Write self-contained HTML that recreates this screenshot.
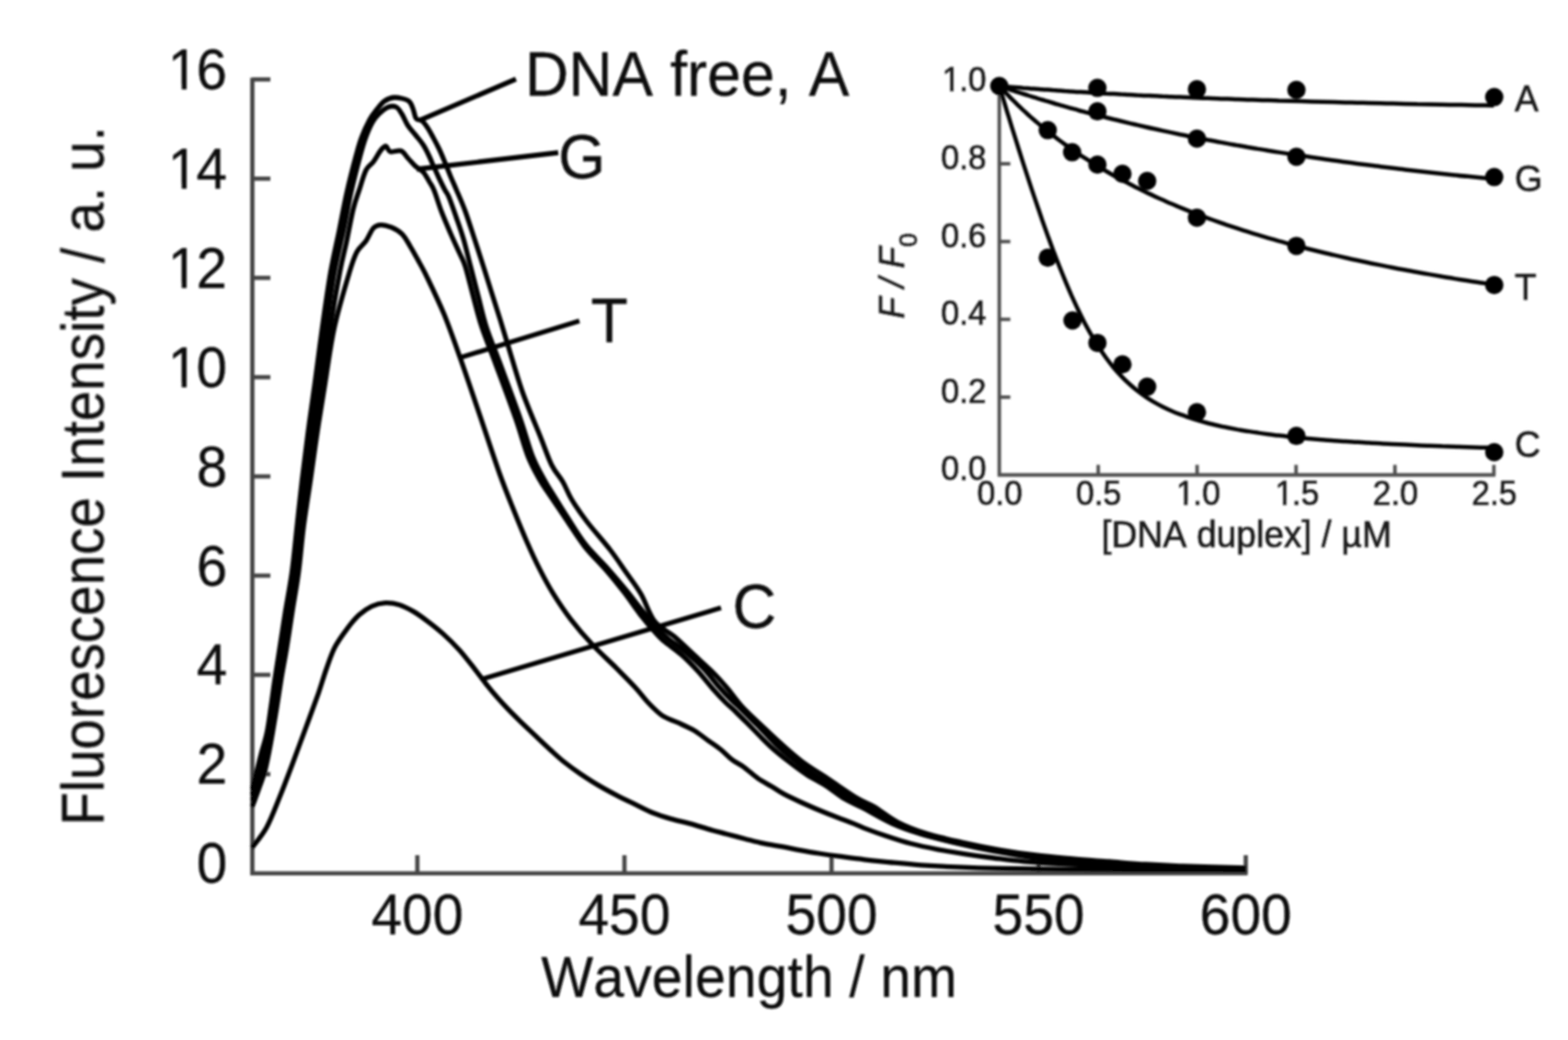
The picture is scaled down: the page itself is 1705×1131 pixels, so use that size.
<!DOCTYPE html>
<html lang="en"><head><meta charset="utf-8"><title>Fluorescence spectra</title>
<style>html,body{margin:0;padding:0;background:#fff}body{width:1705px;height:1131px;overflow:hidden}svg{display:block}text{font-family:"Liberation Sans",sans-serif;fill:#111;stroke:#111;stroke-width:0.3px;stroke-linejoin:round;font-kerning:none}</style></head><body>
<svg width="1705" height="1131" viewBox="0 0 1705 1131">
<defs><filter id="soft" x="-2%" y="-2%" width="104%" height="104%"><feGaussianBlur stdDeviation="0.85"/></filter><clipPath id="plot"><rect x="272.3" y="60" width="1100" height="893"/></clipPath><clipPath id="c0"><path clip-rule="evenodd" d="M-300 -200H300V200H-300ZM5.65 -5.08H17.37V2.00H5.65ZM22.67 -5.08H33.92V2.00H22.67Z"/></clipPath><clipPath id="c1"><path clip-rule="evenodd" d="M-300 -200H300V200H-300ZM5.65 -5.08H17.37V2.00H5.65ZM22.67 -5.08H33.92V2.00H22.67Z"/></clipPath><clipPath id="c2"><path clip-rule="evenodd" d="M-300 -200H300V200H-300ZM5.65 -5.08H17.37V2.00H5.65ZM22.67 -5.08H33.92V2.00H22.67Z"/></clipPath><clipPath id="c3"><path clip-rule="evenodd" d="M-300 -200H300V200H-300ZM5.65 -5.08H17.37V2.00H5.65ZM22.67 -5.08H33.92V2.00H22.67Z"/></clipPath><clipPath id="c4"><path clip-rule="evenodd" d="M-300 -200H300V200H-300ZM2.25 -3.55H9.98V2.60H2.25ZM13.71 -3.55H21.16V2.60H13.71Z"/></clipPath><clipPath id="c5"><path clip-rule="evenodd" d="M-300 -200H300V200H-300ZM2.25 -3.55H9.98V2.60H2.25ZM13.71 -3.55H21.16V2.60H13.71Z"/></clipPath><clipPath id="c6"><path clip-rule="evenodd" d="M-300 -200H300V200H-300ZM2.25 -3.55H9.98V2.60H2.25ZM13.71 -3.55H21.16V2.60H13.71Z"/></clipPath></defs>
<rect width="1705" height="1131" fill="#fff"/>
<g filter="url(#soft)">
<g stroke="#444" stroke-width="4.6" fill="none" stroke-linecap="butt">
<path d="M274.4 84.4 V949.8 H1356.6"/>
<path d="M274.4 86.4 H294.0"/>
<path d="M274.4 194.3 H294.0"/>
<path d="M274.4 302.2 H294.0"/>
<path d="M274.4 410.2 H294.0"/>
<path d="M274.4 518.1 H294.0"/>
<path d="M274.4 626.0 H294.0"/>
<path d="M274.4 733.9 H294.0"/>
<path d="M274.4 841.9 H294.0"/>
<path d="M453.8 949.8 V930.0"/>
<path d="M679.0 949.8 V930.0"/>
<path d="M904.2 949.8 V930.0"/>
<path d="M1129.4 949.8 V930.0"/>
<path d="M1354.6 949.8 V930.0"/>
</g>
<text transform="translate(180.26 96.90) scale(1 1.035)" font-size="60" text-anchor="start" dx="2.28 -2.28" clip-path="url(#c0)">16</text>
<text transform="translate(180.26 204.82) scale(1 1.035)" font-size="60" text-anchor="start" dx="2.28 -2.28" clip-path="url(#c1)">14</text>
<text transform="translate(180.26 312.75) scale(1 1.035)" font-size="60" text-anchor="start" dx="2.28 -2.28" clip-path="url(#c2)">12</text>
<text transform="translate(180.26 420.67) scale(1 1.035)" font-size="60" text-anchor="start" dx="2.28 -2.28" clip-path="url(#c3)">10</text>
<text transform="translate(213.63 528.60) scale(1 1.035)" font-size="60" text-anchor="start">8</text>
<text transform="translate(213.63 636.52) scale(1 1.035)" font-size="60" text-anchor="start">6</text>
<text transform="translate(213.63 744.45) scale(1 1.035)" font-size="60" text-anchor="start">4</text>
<text transform="translate(213.63 852.38) scale(1 1.035)" font-size="60" text-anchor="start">2</text>
<text transform="translate(213.63 960.30) scale(1 1.035)" font-size="60" text-anchor="start">0</text>
<text transform="translate(403.75 1015.50) scale(1 1.035)" font-size="60" text-anchor="start">400</text>
<text transform="translate(628.95 1015.50) scale(1 1.035)" font-size="60" text-anchor="start">450</text>
<text transform="translate(854.15 1015.50) scale(1 1.035)" font-size="60" text-anchor="start">500</text>
<text transform="translate(1079.35 1015.50) scale(1 1.035)" font-size="60" text-anchor="start">550</text>
<text transform="translate(1304.55 1015.50) scale(1 1.035)" font-size="60" text-anchor="start">600</text>
<text transform="translate(814.60 1084.30) scale(1 1.035)" font-size="60" text-anchor="middle" letter-spacing="0.15">Wavelength / nm</text>
<text transform="translate(112.30 517.50) rotate(-90) scale(1 1.085)" font-size="59.5" text-anchor="middle">Fluorescence Intensity / a. u.</text>
<text transform="translate(570.70 104.20) scale(1 1.035)" font-size="66" text-anchor="start" word-spacing="0.4">DNA free, A</text>
<text transform="translate(607.00 194.00) scale(1 1.035)" font-size="66" text-anchor="start">G</text>
<text transform="translate(642.50 372.00) scale(1 1.035)" font-size="66" text-anchor="start">T</text>
<text transform="translate(796.50 683.00) scale(1 1.035)" font-size="66" text-anchor="start">C</text>
<g stroke="#000" stroke-width="5.3" fill="none" stroke-linecap="butt" stroke-linejoin="round">
<path d="M456.0 131.0 L561.0 86.0"/>
<path d="M453.0 184.0 L607.0 166.0"/>
<path d="M500.0 389.0 L630.0 349.0"/>
<path d="M526.0 738.0 L784.0 661.0"/>
<g clip-path="url(#plot)">
<path d="M274.0 859.0C274.9 855.7 277.4 845.8 279.1 839.0C280.9 832.2 282.6 825.1 284.5 818.0C286.4 810.9 288.6 804.8 290.3 796.6C292.0 788.4 293.2 778.4 294.6 769.0C296.0 759.6 297.1 750.5 298.7 740.0C300.3 729.5 302.0 718.7 304.0 706.0C306.0 693.3 308.2 678.0 310.5 664.0C312.8 650.0 315.4 637.3 317.5 622.0C319.6 606.7 321.2 588.7 323.0 572.0C324.8 555.3 326.5 539.0 328.5 522.0C330.5 505.0 332.7 487.7 335.0 470.0C337.3 452.3 339.9 435.0 342.5 416.0C345.1 397.0 347.7 376.0 350.5 356.0C353.3 336.0 356.4 313.7 359.5 296.0C362.6 278.3 366.1 264.3 369.0 250.0C371.9 235.7 374.0 223.3 377.0 210.0C380.0 196.7 384.3 180.0 387.0 170.0C389.7 160.0 390.5 156.7 393.0 150.0C395.5 143.3 399.3 135.0 402.0 130.0C404.7 125.0 406.3 123.3 409.0 120.0C411.7 116.7 414.7 112.3 418.0 110.0C421.3 107.7 424.7 106.1 429.0 106.0C433.3 105.9 440.7 107.5 444.0 109.5C447.3 111.5 447.6 114.8 449.0 118.0C450.4 121.2 450.8 126.8 452.5 129.0C454.2 131.2 456.9 129.8 459.0 131.5C461.1 133.2 463.0 136.0 465.0 139.0C467.0 142.0 468.9 145.7 471.0 149.5C473.1 153.3 475.3 157.4 477.5 162.0C479.7 166.6 481.9 172.0 484.0 177.0C486.1 182.0 487.9 187.0 490.0 192.0C492.1 197.0 493.8 200.7 496.5 207.0C499.2 213.3 502.8 221.2 506.0 230.0C509.2 238.8 512.7 250.0 516.0 260.0C519.3 270.0 522.6 280.3 525.7 290.0C528.8 299.7 531.5 308.3 534.5 318.0C537.5 327.7 541.0 338.3 544.0 348.0C547.0 357.7 548.5 363.0 552.5 376.0C556.5 389.0 562.1 409.3 568.0 426.0C573.9 442.7 582.7 462.7 588.0 476.0C593.3 489.3 596.0 498.0 600.0 506.0C604.0 514.0 608.4 517.8 612.0 524.0C615.6 530.2 617.2 535.8 621.5 543.0C625.8 550.2 631.0 557.8 638.0 567.0C645.0 576.2 656.4 588.8 663.5 598.0C670.6 607.2 674.9 614.0 680.5 622.0C686.1 630.0 691.8 637.0 697.0 646.0C702.2 655.0 706.0 668.3 712.0 676.0C718.0 683.7 725.9 686.0 733.0 692.0C740.1 698.0 747.3 705.3 754.5 712.0C761.7 718.7 770.0 726.0 776.0 732.0C782.0 738.0 785.4 742.0 790.5 748.0C795.6 754.0 800.4 761.3 806.5 768.0C812.6 774.7 820.0 781.3 827.0 788.0C834.0 794.7 841.0 801.3 848.5 808.0C856.0 814.7 863.1 821.3 872.0 828.0C880.9 834.7 892.0 841.3 902.0 848.0C912.0 854.7 924.0 863.2 932.0 868.0C940.0 872.8 942.7 872.7 950.0 877.0C957.3 881.3 966.7 889.2 976.0 894.0C985.3 898.8 994.3 902.3 1006.0 906.0C1017.7 909.7 1032.7 913.0 1046.0 916.0C1059.3 919.0 1072.7 921.7 1086.0 924.0C1099.3 926.3 1112.7 928.3 1126.0 930.0C1139.3 931.7 1152.7 932.8 1166.0 934.0C1179.3 935.2 1192.7 936.0 1206.0 937.0C1219.3 938.0 1232.7 939.2 1246.0 940.0C1259.3 940.8 1267.8 941.3 1286.0 942.0C1304.2 942.7 1343.5 943.7 1355.0 944.0"/>
<path d="M274.0 865.0C274.7 862.8 276.7 856.3 278.0 852.0C279.3 847.7 280.5 844.7 282.0 839.0C283.5 833.3 285.5 825.1 287.2 818.0C288.9 810.9 290.7 804.8 292.3 796.6C293.9 788.4 295.2 778.4 296.7 769.0C298.1 759.6 299.4 750.5 301.0 740.0C302.6 729.5 304.5 718.7 306.5 706.0C308.5 693.3 310.8 678.0 313.0 664.0C315.2 650.0 317.8 637.3 319.9 622.0C322.0 606.7 323.5 588.7 325.4 572.0C327.2 555.3 328.9 539.0 331.0 522.0C333.1 505.0 335.5 487.7 338.0 470.0C340.5 452.3 343.2 435.0 346.0 416.0C348.8 397.0 351.6 376.0 354.5 356.0C357.4 336.0 360.3 313.7 363.5 296.0C366.7 278.3 370.5 264.3 373.5 250.0C376.5 235.7 378.5 223.3 381.5 210.0C384.5 196.7 388.8 180.0 391.5 170.0C394.2 160.0 395.2 156.2 397.5 150.0C399.8 143.8 402.6 137.3 405.0 133.0C407.4 128.7 409.2 126.8 412.0 124.0C414.8 121.2 418.8 117.8 422.0 116.5C425.2 115.2 428.5 115.2 431.0 116.5C433.5 117.8 434.9 120.7 437.0 124.0C439.1 127.3 441.0 132.7 443.5 136.5C446.0 140.3 449.2 143.4 452.0 147.0C454.8 150.6 458.0 154.1 460.5 158.0C463.0 161.9 465.1 166.5 467.0 170.5C468.9 174.5 470.2 178.1 472.0 182.0C473.8 185.9 475.5 189.8 477.5 194.0C479.5 198.2 482.2 203.7 484.0 207.0C485.8 210.3 486.0 209.2 488.0 214.0C490.0 218.8 493.3 228.3 496.0 236.0C498.7 243.7 501.4 251.1 504.0 260.0C506.6 268.9 509.0 279.4 511.7 289.7C514.4 300.0 517.1 310.9 520.0 322.0C522.9 333.1 525.0 343.7 529.0 356.0C533.0 368.3 537.8 379.3 544.0 396.0C550.2 412.7 560.2 439.3 566.0 456.0C571.8 472.7 574.7 485.0 579.0 496.0C583.3 507.0 588.3 515.2 592.0 522.0C595.7 528.8 596.8 530.2 601.0 537.0C605.2 543.8 611.0 553.2 617.0 562.5C623.0 571.8 629.7 583.2 637.0 592.5C644.3 601.8 653.7 610.2 661.0 618.5C668.3 626.8 674.6 634.2 681.0 642.0C687.4 649.8 693.3 658.0 699.5 665.5C705.7 673.0 713.4 682.1 718.0 687.0C722.6 691.9 722.4 691.3 727.0 695.0C731.6 698.7 739.2 703.7 745.5 709.0C751.8 714.3 759.1 720.8 765.0 727.0C770.9 733.2 776.0 740.3 781.0 746.0C786.0 751.7 790.8 756.8 795.0 761.0C799.2 765.2 801.2 766.3 806.0 771.0C810.8 775.7 817.8 782.7 824.0 789.0C830.2 795.3 837.0 802.8 843.5 809.0C850.0 815.2 856.5 820.7 863.0 826.0C869.5 831.3 876.0 836.5 882.5 841.0C889.0 845.5 895.4 848.7 902.0 853.0C908.6 857.3 915.3 863.0 922.0 867.0C928.7 871.0 933.7 872.3 942.0 877.0C950.3 881.7 962.0 890.0 972.0 895.0C982.0 900.0 990.3 903.3 1002.0 907.0C1013.7 910.7 1028.7 914.0 1042.0 917.0C1055.3 920.0 1068.7 922.7 1082.0 925.0C1095.3 927.3 1108.7 929.3 1122.0 931.0C1135.3 932.7 1148.7 933.8 1162.0 935.0C1175.3 936.2 1188.7 937.0 1202.0 938.0C1215.3 939.0 1228.7 940.2 1242.0 941.0C1255.3 941.8 1263.2 942.3 1282.0 943.0C1300.8 943.7 1342.8 944.7 1355.0 945.0"/>
<path d="M274.0 871.0C274.8 868.8 276.7 863.3 278.5 858.0C280.3 852.7 283.1 845.7 285.0 839.0C286.9 832.3 288.2 825.1 289.8 818.0C291.4 810.9 292.9 804.8 294.4 796.6C295.9 788.4 297.4 778.4 298.9 769.0C300.4 759.6 301.5 750.5 303.2 740.0C304.9 729.5 306.9 718.7 309.0 706.0C311.1 693.3 313.3 678.0 315.5 664.0C317.7 650.0 320.2 637.3 322.3 622.0C324.4 606.7 325.9 588.7 327.8 572.0C329.7 555.3 331.3 539.0 333.5 522.0C335.7 505.0 338.2 487.7 341.0 470.0C343.8 452.3 347.0 435.0 350.0 416.0C353.0 397.0 355.8 376.0 359.0 356.0C362.2 336.0 366.5 311.7 369.5 296.0C372.5 280.3 374.6 273.5 377.0 262.0C379.4 250.5 381.9 236.2 384.2 227.0C386.5 217.8 388.3 213.7 390.6 206.7C392.9 199.7 395.4 190.1 398.0 185.0C400.6 179.9 403.3 179.6 406.0 176.0C408.7 172.4 411.8 166.3 414.0 163.5C416.2 160.7 417.8 158.8 419.5 159.0C421.2 159.2 421.8 164.2 424.5 165.0C427.2 165.8 432.8 162.8 436.0 164.0C439.2 165.2 441.3 169.7 444.0 172.5C446.7 175.3 449.2 178.5 452.0 181.0C454.8 183.5 458.0 184.7 460.5 187.5C463.0 190.3 465.1 194.8 467.0 198.0C468.9 201.2 469.8 201.7 472.0 207.0C474.2 212.3 477.0 222.2 480.0 230.0C483.0 237.8 486.7 246.3 490.0 254.0C493.3 261.7 497.3 270.0 500.0 276.0C502.7 282.0 503.6 282.3 506.0 290.0C508.4 297.7 511.5 311.0 514.5 322.0C517.5 333.0 519.9 343.7 524.0 356.0C528.1 368.3 532.8 379.3 539.0 396.0C545.2 412.7 555.2 439.3 561.0 456.0C566.8 472.7 569.7 485.0 574.0 496.0C578.3 507.0 583.1 515.0 587.0 522.0C590.9 529.0 592.8 531.0 597.5 538.0C602.2 545.0 608.7 554.7 615.0 564.0C621.3 573.3 628.2 584.7 635.5 594.0C642.8 603.3 651.8 611.7 659.0 620.0C666.2 628.3 672.3 636.0 678.5 644.0C684.7 652.0 690.0 660.3 696.0 668.0C702.0 675.7 710.0 685.0 714.5 690.0C719.0 695.0 718.6 694.3 723.0 698.0C727.4 701.7 735.0 706.7 741.0 712.0C747.0 717.3 753.3 723.8 759.0 730.0C764.7 736.2 770.0 743.3 775.0 749.0C780.0 754.7 784.8 759.8 789.0 764.0C793.2 768.2 795.2 769.3 800.0 774.0C804.8 778.7 811.7 785.7 818.0 792.0C824.3 798.3 831.3 805.9 838.0 812.0C844.7 818.1 851.3 823.3 858.0 828.5C864.7 833.7 871.3 838.7 878.0 843.0C884.7 847.3 891.3 850.2 898.0 854.5C904.7 858.8 911.3 864.5 918.0 868.5C924.7 872.5 929.3 874.0 938.0 878.5C946.7 883.0 959.7 890.8 970.0 895.5C980.3 900.2 988.3 902.9 1000.0 906.5C1011.7 910.1 1026.7 913.8 1040.0 917.0C1053.3 920.2 1066.7 923.0 1080.0 925.5C1093.3 928.0 1106.7 930.2 1120.0 932.0C1133.3 933.8 1146.7 934.8 1160.0 936.0C1173.3 937.2 1186.7 938.0 1200.0 939.0C1213.3 940.0 1226.7 941.2 1240.0 942.0C1253.3 942.8 1260.8 943.3 1280.0 944.0C1299.2 944.7 1342.5 945.7 1355.0 946.0"/>
<path d="M274.0 877.5C274.5 876.2 275.6 873.8 277.0 870.0C278.4 866.2 280.7 860.2 282.5 855.0C284.3 849.8 286.2 845.2 287.9 839.0C289.6 832.8 291.1 825.1 292.5 818.0C293.9 810.9 295.0 804.8 296.4 796.6C297.8 788.4 299.5 778.4 301.0 769.0C302.5 759.6 303.8 750.5 305.5 740.0C307.2 729.5 309.4 718.7 311.5 706.0C313.6 693.3 315.8 678.0 318.0 664.0C320.2 650.0 322.7 637.3 324.7 622.0C326.7 606.7 328.0 588.7 330.2 572.0C332.4 555.3 335.1 539.0 337.6 522.0C340.1 505.0 342.3 487.7 345.0 470.0C347.7 452.3 350.5 435.0 353.6 416.0C356.7 397.0 359.2 376.0 363.6 356.0C368.0 336.0 375.9 309.7 380.0 296.0C384.1 282.3 385.0 279.7 388.0 274.0C391.0 268.3 395.0 266.3 398.0 262.0C401.0 257.7 403.3 250.9 406.0 248.0C408.7 245.1 410.7 244.7 414.1 244.6C417.4 244.5 421.9 245.7 425.8 247.3C429.7 249.0 433.9 251.2 437.3 254.6C440.7 258.0 443.2 263.3 446.0 267.8C448.8 272.3 450.9 276.2 453.8 281.6C456.8 287.1 459.0 290.3 463.8 300.3C468.6 310.3 476.6 326.7 482.8 341.6C488.9 356.6 494.3 372.2 500.7 390.1C507.1 408.0 513.8 428.3 520.9 449.1C528.0 470.0 536.8 497.0 543.2 515.0C549.7 533.0 554.6 544.7 559.5 557.0C564.4 569.2 568.1 578.2 572.7 588.7C577.3 599.2 582.5 610.5 587.3 619.9C592.1 629.3 595.8 636.4 601.4 645.4C607.0 654.4 613.5 664.3 620.7 673.6C627.9 683.0 636.2 692.6 644.4 701.3C652.5 710.0 661.6 718.0 669.3 725.6C676.9 733.3 684.4 740.6 690.2 747.0C696.1 753.3 699.7 758.8 704.7 764.0C709.7 769.2 714.7 774.5 720.0 778.1C725.3 781.7 730.9 783.0 736.7 785.7C742.5 788.4 749.4 791.3 755.0 794.5C760.5 797.8 765.2 801.9 770.0 805.3C774.8 808.7 779.3 811.6 783.6 815.0C788.0 818.5 791.8 823.1 796.0 826.2C800.2 829.4 804.0 830.7 808.7 834.1C813.4 837.5 819.0 842.9 824.0 846.4C829.0 849.9 834.3 852.4 839.0 855.2C843.6 858.0 846.6 860.4 851.8 863.2C856.9 866.0 863.6 869.1 870.0 872.0C876.4 874.9 883.3 878.0 890.0 880.8C896.7 883.6 903.6 886.4 910.0 888.8C916.4 891.3 923.0 893.6 928.2 895.6C933.5 897.7 936.2 899.2 941.8 901.4C947.3 903.5 953.7 905.9 961.8 908.5C969.8 911.2 980.3 914.8 990.0 917.3C999.7 919.8 1010.0 921.9 1020.0 923.8C1030.0 925.7 1040.0 927.3 1050.0 928.8C1060.0 930.4 1069.4 931.7 1080.0 933.0C1090.6 934.3 1099.0 935.6 1113.5 936.8C1128.0 938.0 1143.8 939.0 1167.0 940.2C1190.2 941.3 1221.3 942.7 1252.6 943.6C1284.0 944.6 1337.9 945.6 1355.0 946.0"/>
<path d="M274.0 922.0C276.6 918.3 284.8 909.1 289.8 900.0C294.8 890.9 299.2 878.9 303.9 867.3C308.6 855.7 313.4 843.0 318.1 830.5C322.8 818.0 327.5 805.0 332.2 792.3C336.9 779.6 342.4 764.8 346.2 754.1C349.9 743.4 351.7 736.4 354.7 728.0C357.7 719.6 360.2 711.4 364.0 704.0C367.8 696.6 373.2 689.5 377.6 683.6C382.0 677.7 386.0 672.8 390.4 668.8C394.8 664.8 399.4 661.5 404.2 659.3C409.0 657.1 414.0 655.9 419.0 655.6C424.0 655.3 429.1 656.1 434.2 657.7C439.3 659.3 444.6 662.1 449.8 665.1C455.0 668.1 459.9 671.8 465.2 675.8C470.5 679.8 475.8 683.9 481.6 689.1C487.4 694.3 493.9 700.7 499.8 707.2C505.7 713.8 511.8 722.0 516.8 728.4C521.8 734.8 525.8 740.3 529.8 745.4C533.8 750.5 537.2 754.5 541.0 758.8C544.8 763.1 548.3 766.9 552.4 771.2C556.5 775.5 560.8 779.7 565.6 784.4C570.4 789.1 576.0 794.3 581.4 799.4C586.8 804.5 592.8 810.3 598.2 815.2C603.6 820.1 608.2 824.5 613.6 828.8C619.0 833.1 624.5 837.1 630.6 841.2C636.7 845.3 643.4 849.7 650.0 853.6C656.6 857.5 663.3 861.1 670.0 864.6C676.7 868.1 683.3 871.2 690.0 874.4C696.7 877.6 703.3 881.3 710.0 884.0C716.7 886.7 723.3 888.7 730.0 890.6C736.7 892.5 743.3 893.8 750.0 895.6C756.7 897.4 763.3 899.7 770.0 901.6C776.7 903.5 783.3 905.2 790.0 907.0C796.7 908.8 803.3 910.5 810.0 912.2C816.7 913.9 823.3 915.8 830.0 917.2C836.7 918.6 843.3 919.4 850.0 920.6C856.7 921.8 863.3 923.4 870.0 924.6C876.7 925.8 883.0 926.9 890.0 928.0C897.0 929.1 903.7 930.1 912.0 931.2C920.3 932.3 930.3 933.7 940.0 934.8C949.7 935.9 959.7 937.0 970.0 938.0C980.3 939.0 990.3 940.0 1002.0 940.8C1013.7 941.6 1026.0 942.3 1040.0 942.9C1054.0 943.5 1066.7 944.0 1086.0 944.4C1105.3 944.8 1128.5 945.1 1156.0 945.4C1183.5 945.6 1217.8 945.8 1251.0 945.9C1284.2 946.0 1337.7 946.0 1355.0 946.0"/>
</g>
</g>
<g stroke="#505050" stroke-width="3.8" fill="none">
<path d="M1086.6 93.5 V516.5 H1626.1"/>
<path d="M1086.6 178.1 H1098.6"/>
<path d="M1086.6 262.7 H1098.6"/>
<path d="M1086.6 347.3 H1098.6"/>
<path d="M1086.6 431.9 H1098.6"/>
<path d="M1194.2 516.5 V505.5"/>
<path d="M1301.7 516.5 V505.5"/>
<path d="M1409.3 516.5 V505.5"/>
<path d="M1516.8 516.5 V505.5"/>
<path d="M1624.4 516.5 V505.5"/>
</g>
<text transform="translate(1023.15 99.30) scale(1 1.035)" font-size="35.5" text-anchor="start" style="fill:#1a1a1a;stroke:#1a1a1a;stroke-width:0.6px" dx="1.35 -1.35 0.00" clip-path="url(#c4)">1.0</text>
<text transform="translate(1023.15 183.90) scale(1 1.035)" font-size="35.5" text-anchor="start" style="fill:#1a1a1a;stroke:#1a1a1a;stroke-width:0.6px">0.8</text>
<text transform="translate(1023.15 268.50) scale(1 1.035)" font-size="35.5" text-anchor="start" style="fill:#1a1a1a;stroke:#1a1a1a;stroke-width:0.6px">0.6</text>
<text transform="translate(1023.15 353.10) scale(1 1.035)" font-size="35.5" text-anchor="start" style="fill:#1a1a1a;stroke:#1a1a1a;stroke-width:0.6px">0.4</text>
<text transform="translate(1023.15 437.70) scale(1 1.035)" font-size="35.5" text-anchor="start" style="fill:#1a1a1a;stroke:#1a1a1a;stroke-width:0.6px">0.2</text>
<text transform="translate(1023.15 522.30) scale(1 1.035)" font-size="35.5" text-anchor="start" style="fill:#1a1a1a;stroke:#1a1a1a;stroke-width:0.6px">0.0</text>
<text transform="translate(1062.43 549.00) scale(1 1.035)" font-size="35.5" text-anchor="start" style="fill:#1a1a1a;stroke:#1a1a1a;stroke-width:0.6px">0.0</text>
<text transform="translate(1169.99 549.00) scale(1 1.035)" font-size="35.5" text-anchor="start" style="fill:#1a1a1a;stroke:#1a1a1a;stroke-width:0.6px">0.5</text>
<text transform="translate(1277.55 549.00) scale(1 1.035)" font-size="35.5" text-anchor="start" style="fill:#1a1a1a;stroke:#1a1a1a;stroke-width:0.6px" dx="1.35 -1.35 0.00" clip-path="url(#c5)">1.0</text>
<text transform="translate(1385.11 549.00) scale(1 1.035)" font-size="35.5" text-anchor="start" style="fill:#1a1a1a;stroke:#1a1a1a;stroke-width:0.6px" dx="1.35 -1.35 0.00" clip-path="url(#c6)">1.5</text>
<text transform="translate(1492.67 549.00) scale(1 1.035)" font-size="35.5" text-anchor="start" style="fill:#1a1a1a;stroke:#1a1a1a;stroke-width:0.6px">2.0</text>
<text transform="translate(1600.23 549.00) scale(1 1.035)" font-size="35.5" text-anchor="start" style="fill:#1a1a1a;stroke:#1a1a1a;stroke-width:0.6px">2.5</text>
<text transform="translate(1355.50 595.00) scale(1 1.035)" font-size="38.8" text-anchor="middle" style="fill:#1a1a1a;stroke:#1a1a1a;stroke-width:0.6px">[DNA duplex] / µM</text>
<text transform="translate(983 346.5) rotate(-90) scale(1 1.035)" font-size="38" font-style="italic" style="fill:#1a1a1a;stroke:#1a1a1a;stroke-width:0.6px">F / F<tspan font-size="27" dy="14" font-style="normal">0</tspan></text>
<text transform="translate(1647.00 121.00) scale(1 1.035)" font-size="39" text-anchor="start" style="fill:#1a1a1a;stroke:#1a1a1a;stroke-width:0.6px">A</text>
<text transform="translate(1647.00 207.50) scale(1 1.035)" font-size="39" text-anchor="start" style="fill:#1a1a1a;stroke:#1a1a1a;stroke-width:0.6px">G</text>
<text transform="translate(1647.00 325.50) scale(1 1.035)" font-size="39" text-anchor="start" style="fill:#1a1a1a;stroke:#1a1a1a;stroke-width:0.6px">T</text>
<text transform="translate(1647.00 497.00) scale(1 1.035)" font-size="39" text-anchor="start" style="fill:#1a1a1a;stroke:#1a1a1a;stroke-width:0.6px">C</text>
<g stroke="#000" stroke-width="4.5" fill="none" stroke-linejoin="round">
<path d="M1086.6 93.5C1086.7 93.5 1087.0 93.5 1087.4 93.6C1087.8 93.6 1088.3 93.6 1088.9 93.7C1089.5 93.8 1090.3 93.8 1091.1 93.9C1091.8 94.0 1092.7 94.0 1093.7 94.1C1094.6 94.2 1095.6 94.3 1096.7 94.4C1097.8 94.5 1098.9 94.6 1100.1 94.7C1101.3 94.8 1102.6 94.9 1103.9 95.0C1105.2 95.1 1106.6 95.2 1108.0 95.3C1109.4 95.4 1110.9 95.5 1112.4 95.7C1114.0 95.8 1115.6 95.9 1117.2 96.0C1118.8 96.1 1120.5 96.3 1122.2 96.4C1124.0 96.5 1125.7 96.7 1127.6 96.8C1129.4 96.9 1131.2 97.1 1133.1 97.2C1135.1 97.4 1137.0 97.5 1139.0 97.6C1141.0 97.8 1143.0 97.9 1145.1 98.1C1147.2 98.2 1149.3 98.4 1151.5 98.5C1153.7 98.7 1155.9 98.8 1158.1 99.0C1160.3 99.1 1162.6 99.3 1164.9 99.4C1167.3 99.6 1169.6 99.7 1172.0 99.9C1174.4 100.0 1176.9 100.2 1179.3 100.3C1181.8 100.5 1184.3 100.6 1186.9 100.8C1189.4 100.9 1192.0 101.1 1194.6 101.2C1197.2 101.4 1199.9 101.5 1202.6 101.7C1205.3 101.8 1208.0 102.0 1210.7 102.1C1213.5 102.3 1216.3 102.4 1219.1 102.6C1221.9 102.7 1224.8 102.9 1227.7 103.0C1230.6 103.2 1233.5 103.3 1236.5 103.5C1239.4 103.6 1242.4 103.8 1245.5 103.9C1248.5 104.0 1251.6 104.2 1254.6 104.3C1257.7 104.5 1260.9 104.6 1264.0 104.8C1267.2 104.9 1270.3 105.1 1273.6 105.2C1276.8 105.3 1280.0 105.5 1283.3 105.6C1286.6 105.8 1289.9 105.9 1293.2 106.0C1296.6 106.2 1299.9 106.3 1303.3 106.4C1306.7 106.6 1310.2 106.7 1313.6 106.8C1317.1 107.0 1320.6 107.1 1324.1 107.2C1327.6 107.4 1331.2 107.5 1334.7 107.6C1338.3 107.7 1341.9 107.9 1345.6 108.0C1349.2 108.1 1352.9 108.2 1356.5 108.4C1360.2 108.5 1364.0 108.6 1367.7 108.7C1371.5 108.9 1375.2 109.0 1379.0 109.1C1382.8 109.2 1386.7 109.3 1390.5 109.5C1394.4 109.6 1398.3 109.7 1402.2 109.8C1406.1 109.9 1410.0 110.0 1414.0 110.1C1418.0 110.2 1422.0 110.4 1426.0 110.5C1430.0 110.6 1434.1 110.7 1438.2 110.8C1442.2 110.9 1446.3 111.0 1450.5 111.1C1454.6 111.2 1458.7 111.3 1462.9 111.4C1467.1 111.5 1471.3 111.6 1475.5 111.7C1479.8 111.8 1484.0 111.9 1488.3 112.0C1492.6 112.1 1496.9 112.2 1501.3 112.3C1505.6 112.4 1510.0 112.5 1514.3 112.6C1518.7 112.7 1523.1 112.8 1527.6 112.9C1532.0 113.0 1536.5 113.1 1541.0 113.2C1545.5 113.2 1550.0 113.3 1554.5 113.4C1559.0 113.5 1563.6 113.6 1568.2 113.7C1572.8 113.8 1577.4 113.9 1582.0 113.9C1586.7 114.0 1591.3 114.1 1596.0 114.2C1600.7 114.3 1605.4 114.4 1610.1 114.4C1614.9 114.5 1622.0 114.6 1624.4 114.7"/>
<path d="M1086.6 93.5C1086.7 93.5 1087.0 93.6 1087.4 93.8C1087.8 93.9 1088.3 94.1 1088.9 94.3C1089.5 94.5 1090.3 94.7 1091.1 95.0C1091.8 95.3 1092.7 95.6 1093.7 95.9C1094.6 96.2 1095.6 96.5 1096.7 96.9C1097.8 97.3 1098.9 97.6 1100.1 98.0C1101.3 98.4 1102.6 98.8 1103.9 99.3C1105.2 99.7 1106.6 100.2 1108.0 100.6C1109.4 101.1 1110.9 101.6 1112.4 102.0C1114.0 102.5 1115.6 103.0 1117.2 103.5C1118.8 104.1 1120.5 104.6 1122.2 105.1C1124.0 105.7 1125.7 106.2 1127.6 106.8C1129.4 107.3 1131.2 107.9 1133.1 108.5C1135.1 109.1 1137.0 109.6 1139.0 110.2C1141.0 110.8 1143.0 111.4 1145.1 112.0C1147.2 112.7 1149.3 113.3 1151.5 113.9C1153.7 114.5 1155.9 115.2 1158.1 115.8C1160.3 116.4 1162.6 117.1 1164.9 117.7C1167.3 118.4 1169.6 119.0 1172.0 119.7C1174.4 120.3 1176.9 121.0 1179.3 121.7C1181.8 122.3 1184.3 123.0 1186.9 123.7C1189.4 124.3 1192.0 125.0 1194.6 125.7C1197.2 126.4 1199.9 127.0 1202.6 127.7C1205.3 128.4 1208.0 129.1 1210.7 129.8C1213.5 130.4 1216.3 131.1 1219.1 131.8C1221.9 132.5 1224.8 133.2 1227.7 133.9C1230.6 134.6 1233.5 135.2 1236.5 135.9C1239.4 136.6 1242.4 137.3 1245.5 138.0C1248.5 138.7 1251.6 139.4 1254.6 140.0C1257.7 140.7 1260.9 141.4 1264.0 142.1C1267.2 142.8 1270.3 143.5 1273.6 144.1C1276.8 144.8 1280.0 145.5 1283.3 146.2C1286.6 146.8 1289.9 147.5 1293.2 148.2C1296.6 148.9 1299.9 149.5 1303.3 150.2C1306.7 150.9 1310.2 151.5 1313.6 152.2C1317.1 152.8 1320.6 153.5 1324.1 154.2C1327.6 154.8 1331.2 155.5 1334.7 156.1C1338.3 156.8 1341.9 157.4 1345.6 158.1C1349.2 158.7 1352.9 159.3 1356.5 160.0C1360.2 160.6 1364.0 161.2 1367.7 161.9C1371.5 162.5 1375.2 163.1 1379.0 163.8C1382.8 164.4 1386.7 165.0 1390.5 165.6C1394.4 166.2 1398.3 166.8 1402.2 167.4C1406.1 168.0 1410.0 168.6 1414.0 169.2C1418.0 169.8 1422.0 170.4 1426.0 171.0C1430.0 171.6 1434.1 172.2 1438.2 172.8C1442.2 173.4 1446.3 173.9 1450.5 174.5C1454.6 175.1 1458.7 175.7 1462.9 176.2C1467.1 176.8 1471.3 177.3 1475.5 177.9C1479.8 178.5 1484.0 179.0 1488.3 179.6C1492.6 180.1 1496.9 180.6 1501.3 181.2C1505.6 181.7 1510.0 182.3 1514.3 182.8C1518.7 183.3 1523.1 183.8 1527.6 184.4C1532.0 184.9 1536.5 185.4 1541.0 185.9C1545.5 186.4 1550.0 186.9 1554.5 187.4C1559.0 187.9 1563.6 188.4 1568.2 188.9C1572.8 189.4 1577.4 189.9 1582.0 190.4C1586.7 190.9 1591.3 191.4 1596.0 191.8C1600.7 192.3 1605.4 192.8 1610.1 193.3C1614.9 193.7 1622.0 194.4 1624.4 194.6"/>
<path d="M1086.6 93.5C1086.7 93.6 1087.0 93.9 1087.4 94.3C1087.8 94.8 1088.3 95.4 1088.9 96.0C1089.5 96.7 1090.3 97.5 1091.1 98.3C1091.8 99.1 1092.7 100.1 1093.7 101.0C1094.6 102.0 1095.6 103.1 1096.7 104.2C1097.8 105.3 1098.9 106.5 1100.1 107.7C1101.3 108.9 1102.6 110.1 1103.9 111.4C1105.2 112.7 1106.6 114.0 1108.0 115.4C1109.4 116.8 1110.9 118.2 1112.4 119.6C1114.0 121.0 1115.6 122.5 1117.2 124.0C1118.8 125.4 1120.5 127.0 1122.2 128.5C1124.0 130.0 1125.7 131.5 1127.6 133.1C1129.4 134.6 1131.2 136.2 1133.1 137.8C1135.1 139.4 1137.0 141.0 1139.0 142.6C1141.0 144.2 1143.0 145.8 1145.1 147.4C1147.2 149.0 1149.3 150.6 1151.5 152.3C1153.7 153.9 1155.9 155.5 1158.1 157.1C1160.3 158.8 1162.6 160.4 1164.9 162.0C1167.3 163.6 1169.6 165.3 1172.0 166.9C1174.4 168.5 1176.9 170.1 1179.3 171.7C1181.8 173.3 1184.3 174.9 1186.9 176.5C1189.4 178.1 1192.0 179.7 1194.6 181.3C1197.2 182.9 1199.9 184.5 1202.6 186.0C1205.3 187.6 1208.0 189.2 1210.7 190.7C1213.5 192.2 1216.3 193.8 1219.1 195.3C1221.9 196.8 1224.8 198.3 1227.7 199.8C1230.6 201.4 1233.5 202.8 1236.5 204.3C1239.4 205.8 1242.4 207.3 1245.5 208.7C1248.5 210.2 1251.6 211.6 1254.6 213.1C1257.7 214.5 1260.9 215.9 1264.0 217.3C1267.2 218.7 1270.3 220.1 1273.6 221.5C1276.8 222.9 1280.0 224.2 1283.3 225.6C1286.6 226.9 1289.9 228.3 1293.2 229.6C1296.6 230.9 1299.9 232.2 1303.3 233.5C1306.7 234.8 1310.2 236.1 1313.6 237.4C1317.1 238.6 1320.6 239.9 1324.1 241.1C1327.6 242.4 1331.2 243.6 1334.7 244.8C1338.3 246.0 1341.9 247.2 1345.6 248.4C1349.2 249.6 1352.9 250.8 1356.5 251.9C1360.2 253.1 1364.0 254.3 1367.7 255.4C1371.5 256.5 1375.2 257.7 1379.0 258.8C1382.8 259.9 1386.7 261.0 1390.5 262.1C1394.4 263.1 1398.3 264.2 1402.2 265.3C1406.1 266.3 1410.0 267.4 1414.0 268.4C1418.0 269.4 1422.0 270.5 1426.0 271.5C1430.0 272.5 1434.1 273.5 1438.2 274.5C1442.2 275.5 1446.3 276.4 1450.5 277.4C1454.6 278.4 1458.7 279.3 1462.9 280.2C1467.1 281.2 1471.3 282.1 1475.5 283.0C1479.8 284.0 1484.0 284.9 1488.3 285.8C1492.6 286.7 1496.9 287.5 1501.3 288.4C1505.6 289.3 1510.0 290.2 1514.3 291.0C1518.7 291.9 1523.1 292.7 1527.6 293.5C1532.0 294.4 1536.5 295.2 1541.0 296.0C1545.5 296.8 1550.0 297.6 1554.5 298.4C1559.0 299.2 1563.6 300.0 1568.2 300.8C1572.8 301.5 1577.4 302.3 1582.0 303.1C1586.7 303.8 1591.3 304.6 1596.0 305.3C1600.7 306.1 1605.4 306.8 1610.1 307.5C1614.9 308.2 1622.0 309.3 1624.4 309.6"/>
<path d="M1086.6 93.5C1086.7 93.9 1087.0 94.8 1087.4 96.1C1087.8 97.3 1088.3 99.2 1088.9 101.2C1089.5 103.3 1090.3 105.6 1091.1 108.2C1091.8 110.8 1092.7 113.7 1093.7 116.8C1094.6 119.9 1095.6 123.2 1096.7 126.7C1097.8 130.2 1098.9 133.9 1100.1 137.8C1101.3 141.6 1102.6 145.7 1103.9 149.9C1105.2 154.1 1106.6 158.5 1108.0 163.0C1109.4 167.5 1110.9 172.1 1112.4 176.9C1114.0 181.7 1115.6 186.6 1117.2 191.6C1118.8 196.6 1120.5 201.7 1122.2 206.9C1124.0 212.1 1125.7 217.3 1127.6 222.7C1129.4 228.0 1131.2 233.5 1133.1 238.9C1135.1 244.4 1137.0 249.9 1139.0 255.4C1141.0 260.9 1143.0 266.5 1145.1 272.0C1147.2 277.5 1149.3 283.1 1151.5 288.6C1153.7 294.0 1155.9 299.5 1158.1 304.9C1160.3 310.3 1162.6 315.6 1164.9 320.9C1167.3 326.1 1169.6 331.2 1172.0 336.2C1174.4 341.2 1176.9 346.2 1179.3 350.9C1181.8 355.6 1184.3 360.2 1186.9 364.6C1189.4 369.0 1192.0 373.3 1194.6 377.3C1197.2 381.4 1199.9 385.3 1202.6 389.0C1205.3 392.7 1208.0 396.2 1210.7 399.5C1213.5 402.8 1216.3 406.0 1219.1 408.9C1221.9 411.9 1224.8 414.7 1227.7 417.3C1230.6 420.0 1233.5 422.4 1236.5 424.8C1239.4 427.1 1242.4 429.3 1245.5 431.3C1248.5 433.4 1251.6 435.3 1254.6 437.1C1257.7 438.9 1260.9 440.6 1264.0 442.2C1267.2 443.8 1270.3 445.3 1273.6 446.7C1276.8 448.1 1280.0 449.4 1283.3 450.7C1286.6 451.9 1289.9 453.1 1293.2 454.2C1296.6 455.4 1299.9 456.4 1303.3 457.4C1306.7 458.4 1310.2 459.3 1313.6 460.2C1317.1 461.1 1320.6 461.9 1324.1 462.7C1327.6 463.5 1331.2 464.3 1334.7 465.0C1338.3 465.7 1341.9 466.4 1345.6 467.1C1349.2 467.7 1352.9 468.4 1356.5 468.9C1360.2 469.5 1364.0 470.1 1367.7 470.6C1371.5 471.2 1375.2 471.7 1379.0 472.2C1382.8 472.7 1386.7 473.1 1390.5 473.6C1394.4 474.1 1398.3 474.5 1402.2 474.9C1406.1 475.3 1410.0 475.7 1414.0 476.1C1418.0 476.5 1422.0 476.8 1426.0 477.2C1430.0 477.5 1434.1 477.9 1438.2 478.2C1442.2 478.5 1446.3 478.9 1450.5 479.2C1454.6 479.5 1458.7 479.8 1462.9 480.0C1467.1 480.3 1471.3 480.6 1475.5 480.8C1479.8 481.1 1484.0 481.4 1488.3 481.6C1492.6 481.9 1496.9 482.1 1501.3 482.3C1505.6 482.6 1510.0 482.8 1514.3 483.0C1518.7 483.2 1523.1 483.4 1527.6 483.6C1532.0 483.8 1536.5 484.0 1541.0 484.2C1545.5 484.4 1550.0 484.6 1554.5 484.7C1559.0 484.9 1563.6 485.1 1568.2 485.3C1572.8 485.4 1577.4 485.6 1582.0 485.8C1586.7 485.9 1591.3 486.1 1596.0 486.2C1600.7 486.4 1605.4 486.5 1610.1 486.7C1614.9 486.8 1622.0 487.0 1624.4 487.1"/>
</g>
<g fill="#000">
<circle cx="1086.6" cy="93.5" r="10.0"/>
<circle cx="1193.3" cy="95.6" r="10.0"/>
<circle cx="1301.5" cy="97.1" r="10.0"/>
<circle cx="1409.7" cy="97.7" r="10.0"/>
<circle cx="1624.8" cy="105.6" r="10.0"/>
<circle cx="1193.3" cy="121.1" r="10.0"/>
<circle cx="1301.5" cy="150.8" r="10.0"/>
<circle cx="1409.7" cy="170.5" r="10.0"/>
<circle cx="1624.8" cy="192.6" r="10.0"/>
<circle cx="1139.3" cy="141.6" r="10.0"/>
<circle cx="1165.8" cy="165.6" r="10.0"/>
<circle cx="1193.3" cy="179.0" r="10.0"/>
<circle cx="1220.5" cy="189.0" r="10.0"/>
<circle cx="1247.4" cy="196.8" r="10.0"/>
<circle cx="1301.5" cy="236.7" r="10.0"/>
<circle cx="1409.7" cy="267.4" r="10.0"/>
<circle cx="1624.8" cy="309.9" r="10.0"/>
<circle cx="1139.3" cy="280.2" r="10.0"/>
<circle cx="1166.2" cy="348.5" r="10.0"/>
<circle cx="1193.3" cy="372.9" r="10.0"/>
<circle cx="1220.5" cy="396.2" r="10.0"/>
<circle cx="1247.4" cy="420.6" r="10.0"/>
<circle cx="1301.5" cy="448.2" r="10.0"/>
<circle cx="1409.7" cy="474.1" r="10.0"/>
<circle cx="1624.8" cy="491.7" r="10.0"/>
</g>
</g>
</svg></body></html>
